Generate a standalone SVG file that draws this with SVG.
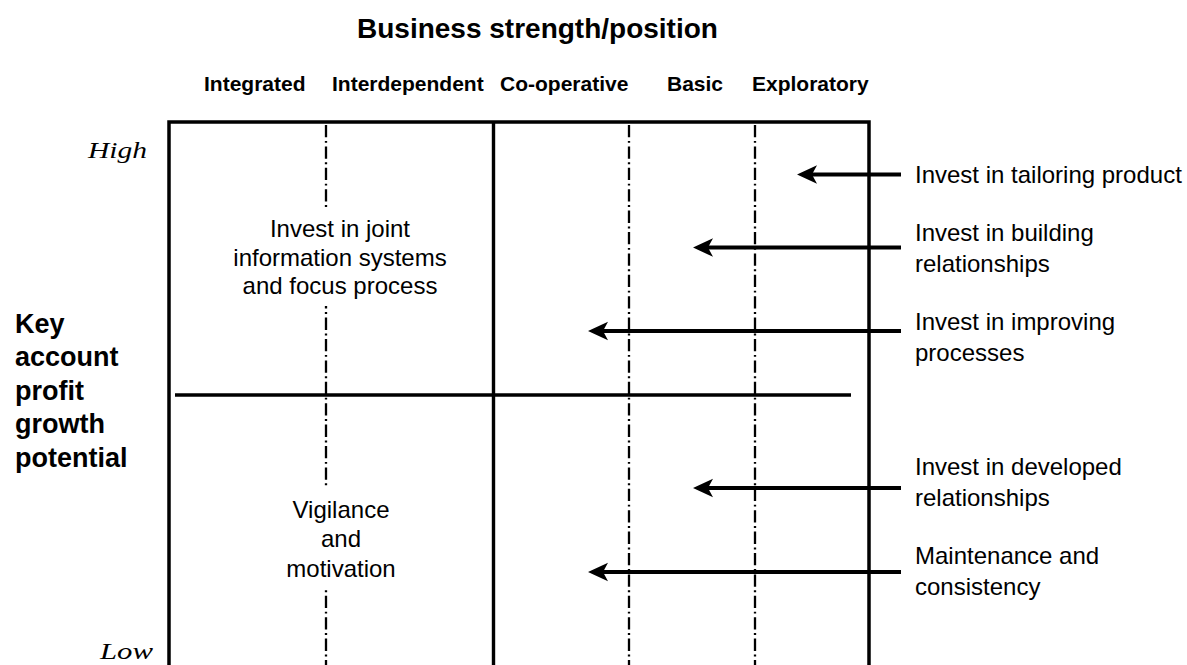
<svg xmlns="http://www.w3.org/2000/svg" width="1187" height="665" viewBox="0 0 1187 665">
  <style>
    .title { font-family: "Liberation Sans", Arial, sans-serif; font-weight: bold; font-size: 28px; fill: #000; }
    .col { font-family: "Liberation Sans", Arial, sans-serif; font-weight: bold; font-size: 21px; fill: #000; }
    .axis { font-family: "Liberation Sans", Arial, sans-serif; font-weight: bold; font-size: 27px; fill: #000; }
    .scale { font-family: "Liberation Serif", "Times New Roman", serif; font-style: italic; font-size: 23px; fill: #000; }
    .cell { font-family: "Liberation Sans", Arial, sans-serif; font-size: 24px; fill: #000; text-anchor: middle; }
    .label { font-family: "Liberation Sans", Arial, sans-serif; font-size: 24px; fill: #000; }
    .frame { fill: none; stroke: #000; stroke-width: 3.5; stroke-linejoin: miter; }
    .divider { stroke: #000; stroke-width: 3.4; }
    .grid { stroke: #000; stroke-width: 2.3; stroke-dasharray: 12.3 3.6 1.9 3.6; }
    .mask { fill: #fff; stroke: none; }
    .arrow { stroke: #000; stroke-width: 4; marker-end: url(#head); }
  </style>
  <defs>
    <marker id="head" markerUnits="userSpaceOnUse" markerWidth="22" markerHeight="22" viewBox="0 -11 22 22" refX="5" refY="0" orient="auto">
      <path d="M20,0 L0,-9.3 L5,0 L0,9.3 Z" fill="#000"/>
    </marker>
  </defs>

  <rect width="1187" height="665" fill="#fff"/>

  <!-- headings -->
  <text id="title" class="title" x="357" y="38">Business strength/position</text>
  <g id="columns">
    <text class="col" x="204" y="91">Integrated</text>
    <text class="col" x="332" y="91">Interdependent</text>
    <text class="col" x="500" y="91">Co-operative</text>
    <text class="col" x="667" y="91">Basic</text>
    <text class="col" x="752" y="91">Exploratory</text>
  </g>
  <g id="axis-label">
    <text class="axis" x="15" y="333">Key</text>
    <text class="axis" x="15" y="366">account</text>
    <text class="axis" x="15" y="400">profit</text>
    <text class="axis" x="15" y="433">growth</text>
    <text class="axis" x="15" y="467">potential</text>
  </g>
  <text id="high" class="scale" x="88" y="158" textLength="59" lengthAdjust="spacingAndGlyphs">High</text>
  <text id="low" class="scale" x="100" y="659" textLength="53" lengthAdjust="spacingAndGlyphs">Low</text>

  <!-- matrix -->
  <g id="matrix">
    <line class="grid" x1="326" y1="125" x2="326" y2="665"/>
    <line class="grid" x1="629" y1="125" x2="629" y2="665"/>
    <line class="grid" x1="755" y1="125" x2="755" y2="665"/>
    <line class="divider" x1="175" y1="395" x2="851" y2="395"/>
    <line class="divider" x1="493.5" y1="122" x2="493.5" y2="665"/>
    <path class="frame" d="M169,665 V122 H869 V665"/>
  </g>

  <!-- quadrant texts -->
  <g id="quadrant-top">
    <rect class="mask" x="226" y="207" width="228" height="99"/>
    <text class="cell" x="340" y="237">Invest in joint</text>
    <text class="cell" x="340" y="265.5">information systems</text>
    <text class="cell" x="340" y="294">and focus process</text>
  </g>
  <g id="quadrant-bottom">
    <rect class="mask" x="282" y="487" width="120" height="100"/>
    <text class="cell" x="341" y="517.5">Vigilance</text>
    <text class="cell" x="341" y="546.5">and</text>
    <text class="cell" x="341" y="576.5">motivation</text>
  </g>

  <!-- investment actions -->
  <g id="action-tailoring">
    <text class="label" x="915" y="183">Invest in tailoring product</text>
  </g>
  <g id="action-building">
    <text class="label" x="915" y="241">Invest in building</text>
    <text class="label" x="915" y="272">relationships</text>
  </g>
  <g id="action-processes">
    <text class="label" x="915" y="329.5">Invest in improving</text>
    <text class="label" x="915" y="360.5">processes</text>
  </g>
  <g id="action-developed">
    <text class="label" x="915" y="475">Invest in developed</text>
    <text class="label" x="915" y="506">relationships</text>
  </g>
  <g id="action-maintenance">
    <text class="label" x="915" y="563.5">Maintenance and</text>
    <text class="label" x="915" y="595">consistency</text>
  </g>

  <g id="connectors">
    <line class="arrow" x1="901" y1="174.5" x2="812" y2="174.5"/>
    <line class="arrow" x1="901" y1="247.5" x2="708" y2="247.5"/>
    <line class="arrow" x1="901" y1="331" x2="603" y2="331"/>
    <line class="arrow" x1="901" y1="488" x2="708" y2="488"/>
    <line class="arrow" x1="901" y1="572" x2="603" y2="572"/>
  </g>
</svg>
